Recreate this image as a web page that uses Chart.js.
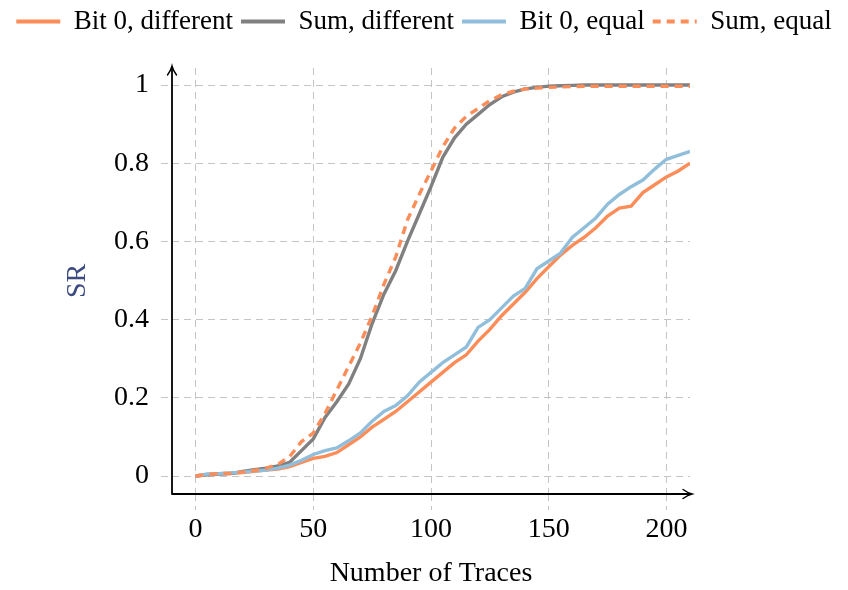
<!DOCTYPE html>
<html>
<head>
<meta charset="utf-8">
<script src="https://cdn.jsdelivr.net/npm/chart.js@4"></script>
<style>
  html, body { margin: 0; padding: 0; background: #fff; }
  #wrap { width: 848px; height: 590px; }
</style>
</head>
<body>
<div id="wrap"><canvas id="myChart" width="848" height="590"></canvas></div>
<script>
// number of traces (x values)
const traces = [0,5,10,15,20,25,30,35,40,45,50,55,60,65,70,75,80,85,90,95,100,
  105,110,115,120,125,130,135,140,145,150,155,160,165,170,175,180,185,190,195,200,205,210];

const bitDiff = [0,0.004,0.006,0.007,0.009,0.012,0.015,0.018,0.024,0.035,0.045,0.05,0.06,0.08,0.1,
  0.125,0.145,0.165,0.19,0.215,0.24,0.265,0.29,0.31,0.345,0.375,0.41,0.44,0.47,0.505,0.535,
  0.565,0.59,0.61,0.635,0.665,0.685,0.69,0.725,0.745,0.765,0.78,0.8];
const sumDiff = [0,0.003,0.005,0.006,0.012,0.016,0.02,0.026,0.035,0.065,0.095,0.15,0.19,0.235,0.3,
  0.39,0.465,0.525,0.6,0.67,0.74,0.815,0.865,0.9,0.925,0.95,0.97,0.982,0.99,0.994,0.997,
  0.998,0.999,1,1,1,1,1,1,1,1,1,1];
const bitEqual = [0,0.005,0.006,0.008,0.01,0.013,0.015,0.02,0.028,0.04,0.055,0.065,0.072,0.09,0.11,
  0.14,0.165,0.18,0.205,0.24,0.265,0.29,0.31,0.33,0.38,0.4,0.43,0.46,0.48,0.53,0.55,
  0.57,0.61,0.635,0.66,0.695,0.72,0.74,0.757,0.785,0.81,0.82,0.83];
const sumEqual = [0,0.004,0.006,0.007,0.01,0.014,0.02,0.03,0.05,0.088,0.11,0.16,0.22,0.28,0.34,
  0.41,0.49,0.56,0.655,0.72,0.78,0.842,0.89,0.92,0.94,0.96,0.975,0.984,0.99,0.992,0.994,
  0.995,0.996,0.997,0.997,0.997,0.997,0.997,0.997,0.997,0.997,0.997,0.997];

const xTicks = [0,50,100,150,200];
const yTicks = [0,0.2,0.4,0.6,0.8,1];

const serif = "'Liberation Serif', 'DejaVu Serif', serif";

function pts(ys) {
  return traces.map((x, i) => ({x: x, y: ys[i]}));
}

// axis lines with arrow heads, like the pgfplots axis
const arrowAxes = {
  id: 'arrowAxes',
  afterDatasetsDraw(chart) {
    const {ctx, chartArea: a} = chart;
    ctx.save();
    ctx.strokeStyle = '#000';
    ctx.lineWidth = 1.8;
    ctx.lineCap = 'round';
    ctx.beginPath();
    ctx.moveTo(a.left, a.bottom);
    ctx.lineTo(a.left, a.top - 1);
    ctx.moveTo(a.left, a.bottom);
    ctx.lineTo(a.right + 1, a.bottom);
    ctx.stroke();
    ctx.lineWidth = 1.4;
    ctx.beginPath();
    ctx.moveTo(a.left - 4.5, a.top + 7);
    ctx.quadraticCurveTo(a.left - 1, a.top + 2, a.left, a.top - 2);
    ctx.quadraticCurveTo(a.left + 1, a.top + 2, a.left + 4.5, a.top + 7);
    ctx.moveTo(a.right - 7, a.bottom - 4.5);
    ctx.quadraticCurveTo(a.right - 2, a.bottom - 1, a.right + 2, a.bottom);
    ctx.quadraticCurveTo(a.right - 2, a.bottom + 1, a.right - 7, a.bottom + 4.5);
    ctx.stroke();
    ctx.restore();
  }
};

// give the legend a fixed band so the plot starts where it does in the figure
const legendBand = {
  id: 'legendBand',
  beforeLayout(chart) {
    const lg = chart.legend;
    if (lg && !lg._banded) {
      const fit = lg.fit.bind(lg);
      lg.fit = function() { fit(); this.height = 68; };
      lg._banded = true;
    }
  }
};

const ctx = document.getElementById('myChart').getContext('2d');
const myChart = new Chart(ctx, {
  type: 'line',
  data: {
    datasets: [
      { label: 'Bit 0, different', data: pts(bitDiff), borderColor: '#fc8d59', order: 3 },
      { label: 'Sum, different', data: pts(sumDiff), borderColor: '#808080', order: 2 },
      { label: 'Bit 0, equal', data: pts(bitEqual), borderColor: '#91bfdb', order: 1 },
      { label: 'Sum, equal', data: pts(sumEqual), borderColor: '#fc8d59', borderDash: [8, 6], order: 0 }
    ]
  },
  options: {
    responsive: false,
    animation: false,
    layout: { padding: 0 },
    elements: {
      line: { borderWidth: 3.4, tension: 0, fill: false },
      point: { radius: 0 }
    },
    plugins: {
      tooltip: { enabled: false },
      legend: {
        position: 'top',
        labels: {
          usePointStyle: true,
          pointStyle: 'line',
          pointStyleWidth: 44,
          padding: 8,
          color: '#000',
          font: { family: serif, size: 27 },
          generateLabels: chart => chart.data.datasets.map((d, i) => ({
            text: d.label,
            datasetIndex: i,
            fillStyle: d.borderColor,
            strokeStyle: d.borderColor,
            lineWidth: 3.8,
            lineDash: d.borderDash || [],
            pointStyle: 'line',
            fontColor: '#000',
            hidden: false
          }))
        }
      }
    },
    scales: {
      x: {
        type: 'linear',
        min: -10,
        max: 210,
        afterBuildTicks: s => { s.ticks = xTicks.map(v => ({value: v})); },
        afterFit: s => { s.height = 96; },
        grid: { color: '#c4c4c4', lineWidth: 1, tickLength: 16, tickColor: '#c4c4c4', tickBorderDash: [7, 5] },
        border: { display: false, dash: [7, 5] },
        ticks: { color: '#000', padding: 3, maxRotation: 0, font: { family: serif, size: 28 } },
        title: { display: true, text: 'Number of Traces', color: '#000', padding: { top: 0, bottom: 0 },
                 font: { family: serif, size: 28 } }
      },
      y: {
        type: 'linear',
        min: -0.046,
        max: 1.0435,
        afterBuildTicks: s => { s.ticks = yTicks.map(v => ({value: v})); },
        afterFit: s => { s.width = 172; },
        grid: { color: '#c4c4c4', lineWidth: 1, tickLength: 11, tickColor: '#c4c4c4', tickBorderDash: [7, 5] },
        border: { display: false, dash: [7, 5] },
        ticks: { color: '#000', padding: 12, font: { family: serif, size: 28 },
                 callback: v => String(+v.toFixed(2)) },
        title: { display: true, text: 'SR', color: '#3b4a7f', padding: { top: 61, bottom: 0 },
                 font: { family: serif, size: 28 } }
      },
      // empty right margin so the plot ends where the figure's does
      yRight: {
        type: 'linear',
        position: 'right',
        afterFit: s => { s.width = 158; },
        grid: { display: false },
        border: { display: false },
        ticks: { display: false }
      }
    }
  },
  plugins: [legendBand, arrowAxes]
});
</script>
</body>
</html>
